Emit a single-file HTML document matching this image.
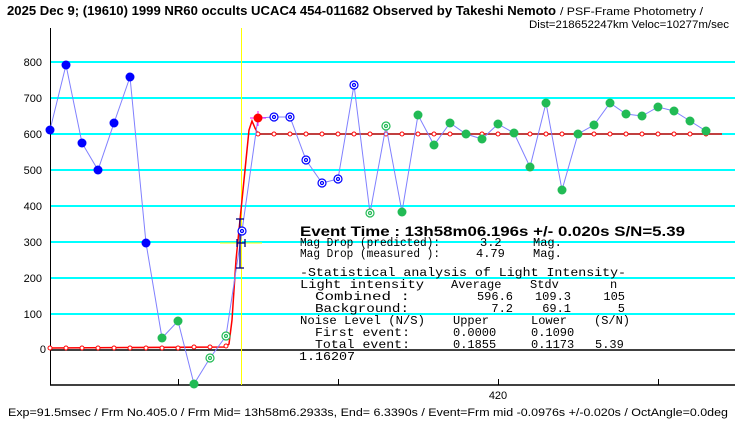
<!DOCTYPE html>
<html><head><meta charset="utf-8"><style>
html,body{margin:0;padding:0;background:#fff;}
svg{display:block;}
.m{font-family:"Liberation Mono",monospace;font-size:12px;fill:#000;}
.s{font-family:"Liberation Sans",sans-serif;font-size:11px;fill:#000;}
</style></head><body>
<svg width="740" height="425" viewBox="0 0 740 425" xmlns="http://www.w3.org/2000/svg">
<rect width="740" height="425" fill="#fff"/>
<text x="7" y="15" font-family="Liberation Sans,sans-serif" font-size="13" font-weight="bold" textLength="549" lengthAdjust="spacingAndGlyphs">2025 Dec 9; (19610) 1999 NR60 occults UCAC4 454-011682 Observed by Takeshi Nemoto</text>
<text x="560" y="15" class="s" font-size="12.5" textLength="143" lengthAdjust="spacingAndGlyphs">/ PSF-Frame Photometry /</text>
<text x="729" y="28" class="s" font-size="12.5" text-anchor="end" textLength="200" lengthAdjust="spacingAndGlyphs">Dist=218652247km Veloc=10277m/sec</text>
<!-- grid -->
<g stroke="#00ffff" stroke-width="2">
<line x1="51" y1="62" x2="735" y2="62"/><line x1="51" y1="98" x2="735" y2="98"/>
<line x1="51" y1="134" x2="735" y2="134"/><line x1="51" y1="170" x2="735" y2="170"/>
<line x1="51" y1="206" x2="735" y2="206"/><line x1="51" y1="242" x2="735" y2="242"/>
<line x1="51" y1="278" x2="735" y2="278"/><line x1="51" y1="314" x2="735" y2="314"/>
</g>
<line x1="50" y1="350" x2="735" y2="350" stroke="#000" stroke-width="1.5"/>
<line x1="50" y1="385" x2="735" y2="385" stroke="#000" stroke-width="1.5"/>
<line x1="50.5" y1="28" x2="50.5" y2="385" stroke="#000" stroke-width="1"/>
<g stroke="#000"><line x1="178.5" y1="379" x2="178.5" y2="385"/><line x1="338.5" y1="379" x2="338.5" y2="385"/><line x1="498.5" y1="379" x2="498.5" y2="385"/><line x1="658.5" y1="379" x2="658.5" y2="385"/></g>
<line x1="241.5" y1="28" x2="241.5" y2="385" stroke="#ffff00" stroke-width="1"/>
<line x1="220" y1="243" x2="262" y2="243" stroke="#ffff00"/>
<g class="s" text-anchor="end">
<text x="42" y="66">800</text><text x="42" y="102">700</text><text x="42" y="138">600</text><text x="42" y="174">500</text><text x="42" y="210">400</text><text x="42" y="246">300</text><text x="42" y="282">200</text><text x="42" y="318">100</text><text x="46" y="353">0</text>
</g>
<text x="498" y="399" class="s" text-anchor="middle">420</text>
<!-- model -->
<polyline fill="none" stroke="#ff0000" stroke-width="1.5" points="50,348 226,347 229,344 232,320 236,260 240,220 245,170 249,130 252,121 255,128 258,134 722,134"/>
<g fill="#fff" stroke="#ff0000" stroke-width="1">
<circle cx="50" cy="348" r="2"/><circle cx="66" cy="348" r="2"/><circle cx="82" cy="348" r="2"/><circle cx="98" cy="348" r="2"/><circle cx="114" cy="348" r="2"/><circle cx="130" cy="348" r="2"/><circle cx="146" cy="348" r="2"/><circle cx="162" cy="348" r="2"/><circle cx="178" cy="348" r="2"/><circle cx="194" cy="347" r="2"/><circle cx="210" cy="347" r="2"/><circle cx="226" cy="346" r="2"/><circle cx="242" cy="229" r="2"/>
<circle cx="258" cy="134" r="2"/><circle cx="274" cy="134" r="2"/><circle cx="290" cy="134" r="2"/><circle cx="306" cy="134" r="2"/><circle cx="322" cy="134" r="2"/><circle cx="338" cy="134" r="2"/><circle cx="354" cy="134" r="2"/><circle cx="370" cy="134" r="2"/><circle cx="386" cy="134" r="2"/><circle cx="402" cy="134" r="2"/><circle cx="418" cy="134" r="2"/><circle cx="434" cy="134" r="2"/><circle cx="450" cy="134" r="2"/><circle cx="466" cy="134" r="2"/><circle cx="482" cy="134" r="2"/><circle cx="498" cy="134" r="2"/><circle cx="514" cy="134" r="2"/><circle cx="530" cy="134" r="2"/><circle cx="546" cy="134" r="2"/><circle cx="562" cy="134" r="2"/><circle cx="578" cy="134" r="2"/><circle cx="594" cy="134" r="2"/><circle cx="610" cy="134" r="2"/><circle cx="626" cy="134" r="2"/><circle cx="642" cy="134" r="2"/><circle cx="658" cy="134" r="2"/><circle cx="674" cy="134" r="2"/><circle cx="690" cy="134" r="2"/><circle cx="706" cy="134" r="2"/>
</g>
<!-- data line -->
<polyline fill="none" stroke="#8080ff" stroke-width="1" points="50,130 66,65 82,143 98,170 114,123 130,77 146,243 162,338 178,321 194,384 210,358 226,336 242,231 258,118 274,117 290,117 306,160 322,183 338,179 354,85 370,213 386,126 402,212 418,115 434,145 450,123 466,134 482,139 498,124 514,133 530,167 546,103 562,190 578,134 594,125 610,103 626,114 642,116 658,107 674,111 690,121 706,131"/>
<!-- error bar -->
<g stroke="#000080" stroke-width="1.3"><line x1="240" y1="219" x2="240" y2="268"/><line x1="236" y1="219" x2="244" y2="219"/><line x1="236" y1="268" x2="244" y2="268"/><line x1="237" y1="243" x2="245" y2="243"/><line x1="237" y1="239" x2="237" y2="247"/><line x1="245" y1="239" x2="245" y2="247"/></g>
<!-- markers -->
<g fill="#0000ff">
<circle cx="50" cy="130" r="4.5"/><circle cx="66" cy="65" r="4.5"/><circle cx="82" cy="143" r="4.5"/><circle cx="98" cy="170" r="4.5"/><circle cx="114" cy="123" r="4.5"/><circle cx="130" cy="77" r="4.5"/><circle cx="146" cy="243" r="4.5"/>
</g>
<g fill="#22bb55">
<circle cx="162" cy="338" r="4.5"/><circle cx="178" cy="321" r="4.5"/><circle cx="194" cy="384" r="4.5"/>
<circle cx="402" cy="212" r="4.5"/><circle cx="418" cy="115" r="4.5"/><circle cx="434" cy="145" r="4.5"/><circle cx="450" cy="123" r="4.5"/><circle cx="466" cy="134" r="4.5"/><circle cx="482" cy="139" r="4.5"/><circle cx="498" cy="124" r="4.5"/><circle cx="514" cy="133" r="4.5"/><circle cx="530" cy="167" r="4.5"/><circle cx="546" cy="103" r="4.5"/><circle cx="562" cy="190" r="4.5"/><circle cx="578" cy="134" r="4.5"/><circle cx="594" cy="125" r="4.5"/><circle cx="610" cy="103" r="4.5"/><circle cx="626" cy="114" r="4.5"/><circle cx="642" cy="116" r="4.5"/><circle cx="658" cy="107" r="4.5"/><circle cx="674" cy="111" r="4.5"/><circle cx="690" cy="121" r="4.5"/><circle cx="706" cy="131" r="4.5"/>
</g>
<g fill="#fff" stroke="#22bb55" stroke-width="1.2">
<circle cx="210" cy="358" r="4"/><circle cx="226" cy="336" r="4"/><circle cx="370" cy="213" r="4"/><circle cx="386" cy="126" r="4"/>
<circle cx="210" cy="358" r="1.5"/><circle cx="226" cy="336" r="1.5"/><circle cx="370" cy="213" r="1.5"/><circle cx="386" cy="126" r="1.5"/>
</g>
<g fill="#fff" stroke="#0000ff" stroke-width="1.2">
<circle cx="242" cy="231" r="4"/><circle cx="274" cy="117" r="4"/><circle cx="290" cy="117" r="4"/><circle cx="306" cy="160" r="4"/><circle cx="322" cy="183" r="4"/><circle cx="338" cy="179" r="4"/><circle cx="354" cy="85" r="4"/>
<circle cx="242" cy="231" r="1.5"/><circle cx="274" cy="117" r="1.5"/><circle cx="290" cy="117" r="1.5"/><circle cx="306" cy="160" r="1.5"/><circle cx="322" cy="183" r="1.5"/><circle cx="338" cy="179" r="1.5"/><circle cx="354" cy="85" r="1.5"/>
</g>
<g stroke="#ff00ff" stroke-width="1"><line x1="250" y1="118" x2="266" y2="118"/><line x1="258" y1="111" x2="258" y2="126"/></g>
<circle cx="258" cy="118" r="4.5" fill="#ff0000"/>
<!-- text block -->
<text x="300" y="236" font-family="Liberation Sans,sans-serif" font-size="14" font-weight="bold" textLength="385" lengthAdjust="spacingAndGlyphs">Event Time : 13h58m06.196s  +/- 0.020s  S/N=5.39</text>
<g class="m">
<text x="300" y="246" textLength="140" lengthAdjust="spacingAndGlyphs">Mag Drop (predicted):</text>
<text x="480" y="246">3.2</text><text x="533" y="246">Mag.</text>
<text x="300" y="257" textLength="140" lengthAdjust="spacingAndGlyphs">Mag Drop (measured ):</text>
<text x="476" y="257">4.79</text><text x="533" y="257">Mag.</text>
<text x="300" y="276" textLength="326" lengthAdjust="spacingAndGlyphs">-Statistical analysis of Light Intensity-</text>
<text x="300" y="288" textLength="124" lengthAdjust="spacingAndGlyphs">Light intensity</text>
<text x="451" y="288">Average</text><text x="530" y="288">Stdv</text><text x="610" y="288">n</text>
<text x="315" y="300" textLength="95" lengthAdjust="spacingAndGlyphs">Combined  :</text>
<text x="513" y="300" text-anchor="end">596.6</text><text x="571" y="300" text-anchor="end">109.3</text><text x="625" y="300" text-anchor="end">105</text>
<text x="315" y="312" textLength="94" lengthAdjust="spacingAndGlyphs">Background:</text>
<text x="513" y="312" text-anchor="end">7.2</text><text x="571" y="312" text-anchor="end">69.1</text><text x="625" y="312" text-anchor="end">5</text>
<text x="300" y="324" textLength="125" lengthAdjust="spacingAndGlyphs">Noise Level (N/S)</text>
<text x="453" y="324">Upper</text><text x="531" y="324">Lower</text><text x="594" y="324">(S/N)</text>
<text x="315" y="336" textLength="95" lengthAdjust="spacingAndGlyphs">First event:</text>
<text x="453" y="336">0.0000</text><text x="531" y="336">0.1090</text>
<text x="315" y="348" textLength="95" lengthAdjust="spacingAndGlyphs">Total event:</text>
<text x="453" y="348">0.1855</text><text x="531" y="348">0.1173</text><text x="595" y="348">5.39</text>
<text x="299" y="360" textLength="56" lengthAdjust="spacingAndGlyphs">1.16207</text>
</g>
<text x="8" y="416" class="s" font-size="11.5" textLength="720" lengthAdjust="spacingAndGlyphs">Exp=91.5msec / Frm No.405.0 / Frm Mid= 13h58m6.2933s,  End= 6.3390s / Event=Frm mid -0.0976s +/-0.020s / OctAngle=0.0deg</text>
</svg>
</body></html>
